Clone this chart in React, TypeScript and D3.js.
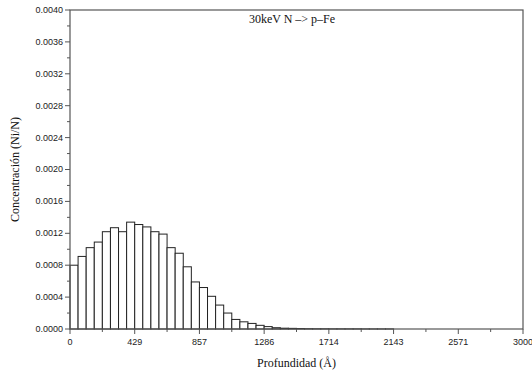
import React from "react";
import * as d3 from "d3";

const binWidth = 3000 / 56;
const concentrations = [
  0.00080, 0.00091, 0.00102, 0.00109, 0.00122, 0.00127, 0.00122, 0.00134,
  0.00131, 0.00128, 0.00122, 0.00119, 0.00102, 0.00095, 0.00078, 0.00059,
  0.00052, 0.00041, 0.00030, 0.00020, 0.00012, 0.00009, 0.00007, 0.000046,
  0.00003, 0.000016, 0.00001, 0.000008, 0.000006, 0.000004, 0.000003, 0.000003,
  0.000002, 0.000002, 0.000002, 0.000002, 0.000001, 0.000001, 0.000001, 0.000001,
  0, 0, 0, 0, 0, 0, 0, 0, 0, 0, 0, 0, 0, 0, 0, 0,
];
const xTickValues = [0, 429, 857, 1286, 1714, 2143, 2571, 3000];
const yTickValues = [0, 0.0004, 0.0008, 0.0012, 0.0016, 0.002, 0.0024, 0.0028, 0.0032, 0.0036, 0.004];
const title = "30keV N \u2013> p\u2013Fe";
const xLabel = "Profundidad  (\u00C5)";
const yLabel = "Concentración (Ni/N)";

export default function App() {
  const W = 532, H = 376;
  const left = 70, right = 523, top = 10, bottom = 329;
  const x = d3.scaleLinear().domain([0, 3000]).range([left, right]);
  const y = d3.scaleLinear().domain([0, 0.004]).range([bottom, top]);
  const axisColor = "#555";
  const sans = "'Liberation Sans', Arial, Helvetica, sans-serif";
  const serif = "'Liberation Serif', 'Times New Roman', Times, serif";
  const xMinor = d3.range(0, 7).map((i) => (i + 0.5) * (3000 / 7));
  const yMinor = d3.range(0, 10).map((i) => (i + 0.5) * 0.0004);
  return (
    <svg width={W} height={H} style={{ position: "absolute", left: 0, top: 0, background: "#fff" }}>
      {concentrations.map((v, i) =>
        v > 0 ? (
          <rect
            key={i}
            x={x(i * binWidth)}
            y={y(v)}
            width={x((i + 1) * binWidth) - x(i * binWidth)}
            height={y(0) - y(v)}
            fill="#fff"
            stroke="#222"
            strokeWidth={1}
          />
        ) : null
      )}
      <rect x={left} y={top} width={right - left} height={bottom - top} fill="none" stroke={axisColor} strokeWidth={1.2} />
      {yTickValues.map((t) => (
        <g key={"y" + t}>
          <line x1={left - 5} x2={left} y1={y(t)} y2={y(t)} stroke={axisColor} />
          <text x={left - 7} y={y(t)} dy="0.33em" textAnchor="end" fontFamily={sans} fontSize={9} fill="#222">
            {t.toFixed(4)}
          </text>
        </g>
      ))}
      {yMinor.map((t) => (
        <line key={"ym" + t} x1={left - 3} x2={left} y1={y(t)} y2={y(t)} stroke={axisColor} />
      ))}
      {xTickValues.map((t, i) => {
        const px = x((i * 3000) / 7);
        return (
          <g key={"x" + t}>
            <line x1={px} x2={px} y1={bottom} y2={bottom + 5} stroke={axisColor} />
            <text x={px} y={bottom + 16} textAnchor="middle" fontFamily={sans} fontSize={9} fill="#222">
              {t}
            </text>
          </g>
        );
      })}
      {xMinor.map((t) => (
        <line key={"xm" + t} x1={x(t)} x2={x(t)} y1={bottom} y2={bottom + 3} stroke={axisColor} />
      ))}
      <text x={292} y={23} textAnchor="middle" fontFamily={serif} fontSize={12} fill="#111">
        {title}
      </text>
      <text x={(left + right) / 2} y={367} textAnchor="middle" fontFamily={serif} fontSize={12} fill="#111">
        {xLabel}
      </text>
      <text
        transform={`translate(19,${(top + bottom) / 2}) rotate(-90)`}
        textAnchor="middle"
        fontFamily={serif}
        fontSize={12}
        fill="#111"
      >
        {yLabel}
      </text>
    </svg>
  );
}
